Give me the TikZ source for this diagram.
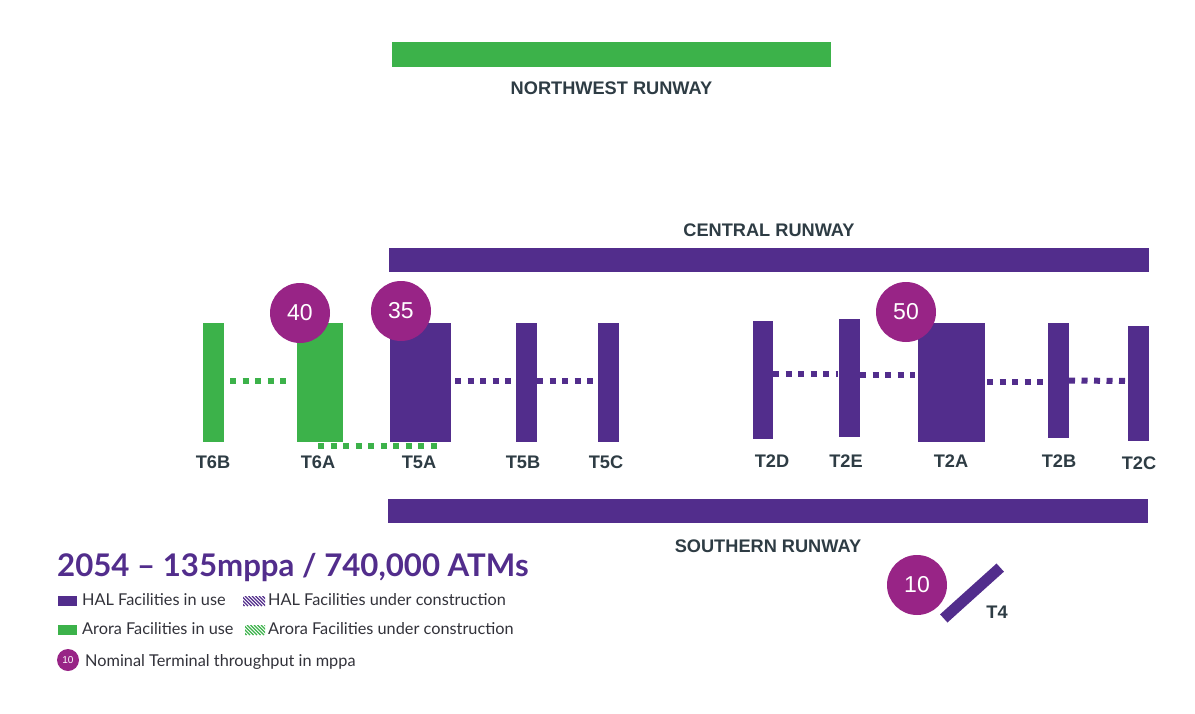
\documentclass[tikz,border=0pt]{standalone}
\usepackage{fontspec}
\setmainfont{Liberation Sans}
\newfontfamily\legfont{Lato}
\definecolor{halp}{RGB}{82,45,140}
\definecolor{arog}{RGB}{60,178,74}
\definecolor{badgec}{RGB}{152,36,134}
\definecolor{labc}{RGB}{46,60,68}
\definecolor{legc}{RGB}{50,50,58}
\begin{document}
\begin{tikzpicture}[x=1pt,y=-1pt,
  halbox/.style={fill=halp, draw=none, inner sep=0, outer sep=0},
  arobox/.style={fill=arog, draw=none, inner sep=0, outer sep=0},
  lab/.style={font=\bfseries\fontsize{18.2}{20}\selectfont, text=labc, inner sep=0, anchor=base},
  badge/.style={circle, fill=badgec, minimum size=60pt, inner sep=0, text=white, font=\fontsize{23}{24}\selectfont},
  halline/.style={draw=halp, line width=6pt, dash pattern=on 6pt off 6.5pt},
  aroline/.style={draw=arog, line width=6pt, dash pattern=on 6pt off 6.5pt},
  legtext/.style={font=\legfont\fontsize{16.3}{18}\selectfont, text=legc, inner sep=0, anchor=base west},
  hatchline/.style={line width=1.3pt}
]
\fill[white] (0,0) rectangle (1195,713);
\useasboundingbox (0,0) rectangle (1195,713);

% runways
\node[arobox, minimum width=439pt, minimum height=25pt] (nwr) at (611.5,54.5) {};
\node[lab] (nwrl) at (611.5,94) {NORTHWEST RUNWAY};
\node[halbox, minimum width=760pt, minimum height=24pt] (cr) at (769,260) {};
\node[lab] (crl) at (769,236) {CENTRAL RUNWAY};
\node[halbox, minimum width=760pt, minimum height=24pt] (sr) at (768,511) {};
\node[lab] (srl) at (768,552) {SOUTHERN RUNWAY};

% terminals
\node[arobox, minimum width=21pt, minimum height=119pt] (T6B) at (213.5,382.5) {};
\node[arobox, minimum width=46pt, minimum height=119pt] (T6A) at (320,382.5) {};
\node[halbox, minimum width=61pt, minimum height=119pt] (T5A) at (420.5,382.5) {};
\node[halbox, minimum width=21pt, minimum height=119pt] (T5B) at (526.5,382.5) {};
\node[halbox, minimum width=21pt, minimum height=119pt] (T5C) at (608.5,382.5) {};
\node[halbox, minimum width=20pt, minimum height=118pt] (T2D) at (763,380) {};
\node[halbox, minimum width=21pt, minimum height=118pt] (T2E) at (849.5,378) {};
\node[halbox, minimum width=67pt, minimum height=119pt] (T2A) at (951.5,382.5) {};
\node[halbox, minimum width=21pt, minimum height=115pt] (T2B) at (1058.5,380.5) {};
\node[halbox, minimum width=21pt, minimum height=115pt] (T2C) at (1138.5,383.5) {};

% connectors under construction
\draw[aroline, shorten <=6pt, shorten >=9pt] ([yshift=1.5pt]T6B.east) -- ([yshift=1.5pt]T6A.west);
\draw[aroline] ([xshift=-2pt,yshift=-4pt]T6A.south) -- ([xshift=19.5pt,yshift=-4pt]T5A.south);
\draw[halline, shorten <=4pt, shorten >=4pt] ([yshift=1.5pt]T5A.east) -- ([yshift=1.5pt]T5B.west);
\draw[halline, shorten >=3pt] ([yshift=1.5pt]T5B.east) -- ([yshift=1.5pt]T5C.west);
\draw[halline, shorten >=1pt] ([yshift=6pt]T2D.east) -- ([yshift=4pt]T2E.west);
\draw[halline, shorten >=3pt] ([yshift=3pt]T2E.east) -- ([yshift=7.5pt]T2A.west);
\draw[halline, shorten <=2pt, shorten >=3pt] ([yshift=0.5pt]T2A.east) -- ([yshift=-1.5pt]T2B.west);
\draw[halline, shorten >=1pt] (T2B.east) -- ([yshift=2.5pt]T2C.west);

% terminal labels
\node[lab] (T6Bl) at (213,468) {T6B};
\node[lab] (T6Al) at (318,468) {T6A};
\node[lab] (T5Al) at (419,468) {T5A};
\node[lab] (T5Bl) at (523,468) {T5B};
\node[lab] (T5Cl) at (606,468) {T5C};
\node[lab] (T2Dl) at (772,467) {T2D};
\node[lab] (T2El) at (846,467) {T2E};
\node[lab] (T2Al) at (951,467) {T2A};
\node[lab] (T2Bl) at (1059,467) {T2B};
\node[lab] (T2Cl) at (1139,469) {T2C};

% badges
\node[badge] (b40) at (300,313) {40};
\node[badge] (b35) at (401,311) {35};
\node[badge] (b50) at (906,312) {50};

% T4
\node[halbox, minimum width=76pt, minimum height=11pt, rotate=42] (T4) at (972,593) {};
\node[badge] (b10) at (917,585) {10};
\node[lab] (T4l) at (997,618) {T4};

% title
\node[anchor=base west, inner sep=0, text=halp, font=\legfont\bfseries\fontsize{31.2}{33}\selectfont] (title) at (57,576) {2054 – 135mppa / 740,000 ATMs};

% legend
\fill[halp] (58,596) rectangle (77,606);
\node[legtext] (lg1) at (82,605) {HAL Facilities in use};
\begin{scope}
  \clip (243,596) rectangle (265,606);
  \foreach \k in {-12,-8.5,...,24} {
    \draw[hatchline, halp] (243+\k,596) -- (253+\k,606);
  }
\end{scope}
\node[legtext] (lg2) at (268,605) {HAL Facilities under construction};
\fill[arog] (58,625) rectangle (77,635);
\node[legtext] (lg3) at (82,634) {Arora Facilities in use};
\begin{scope}
  \clip (245,625) rectangle (265,635);
  \foreach \k in {-12,-8.5,...,24} {
    \draw[hatchline, arog] (245+\k,625) -- (255+\k,635);
  }
\end{scope}
\node[legtext] (lg4) at (268,634) {Arora Facilities under construction};
\node[circle, fill=badgec, minimum size=22pt, inner sep=0, text=white, font=\fontsize{10}{11}\selectfont] (lgb) at (68,660) {10};
\node[legtext] (lg5) at (85,666) {Nominal Terminal throughput in mppa};
\end{tikzpicture}
\end{document}
